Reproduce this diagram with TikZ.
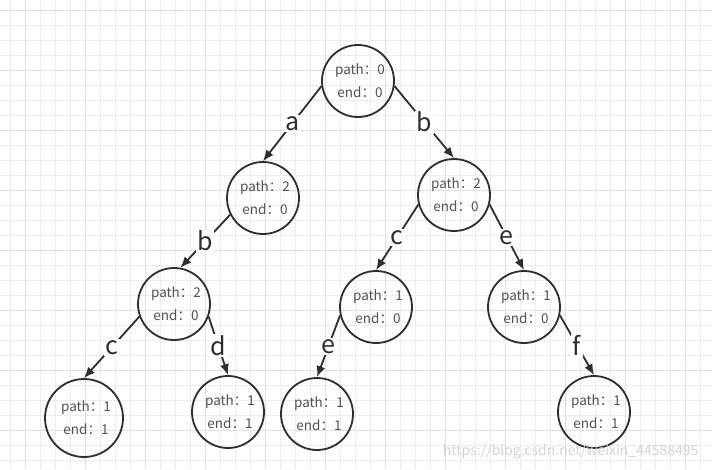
\documentclass[tikz,border=0pt]{standalone}
\usepackage{fontspec}
\newfontfamily\cjk{Noto Sans CJK SC}
\usetikzlibrary{arrows.meta}
\colorlet{mygrid}{black!7}
\colorlet{mygridbold}{black!12}
\colorlet{myline}{black!82}
\colorlet{mytext}{black!68}
\newcommand\trietext[2]{\hspace*{4pt}path：#1\\\hspace*{4pt}end：#2}
\tikzset{
  >={Latex[length=11pt,width=9pt]},
  trie/.style={circle,draw=myline,line width=1.8pt,minimum size=72pt,inner sep=0pt,
    align=center,text=mytext,font=\cjk\fontsize{13.5}{23}\selectfont},
  link/.style={->,draw=myline,line width=1.8pt},
  letter/.style={fill=white,inner sep=1.5pt,text=myline,font=\cjk\fontsize{25}{25}\selectfont},
}

\begin{document}
\begin{tikzpicture}[x=1pt,y=-1pt]
  \fill[white] (0,0) rectangle (712,469);
  \useasboundingbox (0,0) rectangle (712,469);
  % grid paper
  \foreach \x in {10,25,...,710} \draw[mygrid,line width=1pt] (\x,0) -- (\x,469);
  \foreach \y in {10,25,...,469} \draw[mygrid,line width=1pt] (0,\y) -- (712,\y);
  \foreach \x in {25,85,...,705} \draw[mygridbold,line width=1pt] (\x,0) -- (\x,469);
  \foreach \y in {10,70,...,469} \draw[mygridbold,line width=1pt] (0,\y) -- (712,\y);

  % trie nodes
  \node[trie] (root) at (358,81)  {\trietext{0}{0}};
  \node[trie] (na)   at (263,198) {\trietext{2}{0}};
  \node[trie] (nb)   at (454,195) {\trietext{2}{0}};
  \node[trie] (nab)  at (174,304) {\trietext{2}{0}};
  \node[trie] (nbc)  at (376,307) {\trietext{1}{0}};
  \node[trie] (nbe)  at (524,307) {\trietext{1}{0}};
  \node[trie,minimum size=78pt] (nabc) at (84,418) {\trietext{1}{1}};
  \node[trie] (nabd) at (228,412) {\trietext{1}{1}};
  \node[trie] (nbce) at (317,414) {\trietext{1}{1}};
  \node[trie] (nbef) at (594,412) {\trietext{1}{1}};

  % edges with letters
  \draw[link] (root.188) -- node[letter] {a} (na.north);
  \draw[link] (root.-8)  -- node[letter] {b} (nb.north);
  \draw[link] (na.207)   -- node[letter] {b} (nab.80);
  \draw[link] (nb.195)   -- node[letter] {c} (nbc.north);
  \draw[link] (nb.-15)   -- node[letter] {e} (nbe.north);
  \draw[link] (nab.200)  -- node[letter] {c} (nabc.north);
  \draw[link] (nab.-20)  -- node[letter] {d} (nabd.north);
  \draw[link] (nbc.193)  -- node[letter] {e} (nbce.north);
  \draw[link] (nbe.-13)  -- node[letter] {f} (nbef.north);

  \node[anchor=south east,text=black!17,font=\cjk\fontsize{14}{14}\selectfont]
    (mark) at (702,463) {https://blog.csdn.net/weixin\_44588495};
\end{tikzpicture}
\end{document}
